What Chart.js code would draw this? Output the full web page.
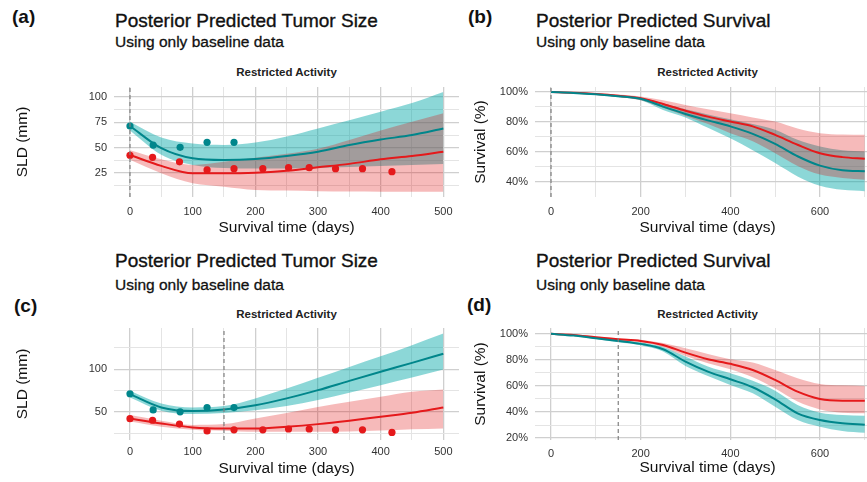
<!DOCTYPE html>
<html>
<head>
<meta charset="utf-8">
<script src="https://cdn.jsdelivr.net/npm/chart.js@4.4.1/dist/chart.umd.min.js"></script>
<style>
  html, body { margin: 0; padding: 0; background: #fff; overflow: hidden; }
  body { width: 867px; height: 482px; position: relative;
         font-family: "Liberation Sans", Arial, Helvetica, sans-serif; color: #111; }
  .txt { position: absolute; line-height: 1; white-space: nowrap; }
  .lbl { font-size: 19px; font-weight: bold; }
  .ttl { font-size: 19px; -webkit-text-stroke: 0.35px #111; }
  .sub { font-size: 15.5px; -webkit-text-stroke: 0.3px #111; }
  .strip { font-size: 11.5px; font-weight: bold; transform: translateX(-50%); color: #222; }
  canvas { position: absolute; }
</style>
</head>
<body>

<div class="txt lbl" style="left:12px;top:7.4px">(a)</div>
<div class="txt ttl" style="left:115px;top:10.9px">Posterior Predicted Tumor Size</div>
<div class="txt sub" style="left:115px;top:34.4px">Using only baseline data</div>
<div class="txt strip" style="left:286.5px;top:66.5px">Restricted Activity</div>

<div class="txt lbl" style="left:468px;top:7.4px">(b)</div>
<div class="txt ttl" style="left:536px;top:10.9px">Posterior Predicted Survival</div>
<div class="txt sub" style="left:536px;top:34.4px">Using only baseline data</div>
<div class="txt strip" style="left:707.5px;top:66.5px">Restricted Activity</div>

<div class="txt lbl" style="left:14px;top:295.9px">(c)</div>
<div class="txt ttl" style="left:115px;top:250.9px">Posterior Predicted Tumor Size</div>
<div class="txt sub" style="left:115px;top:277.4px">Using only baseline data</div>
<div class="txt strip" style="left:286.5px;top:309.3px">Restricted Activity</div>

<div class="txt lbl" style="left:467px;top:294.9px">(d)</div>
<div class="txt ttl" style="left:536px;top:250.9px">Posterior Predicted Survival</div>
<div class="txt sub" style="left:536px;top:277.4px">Using only baseline data</div>
<div class="txt strip" style="left:707.5px;top:309.3px">Restricted Activity</div>

<canvas id="panelA"></canvas>
<canvas id="panelB"></canvas>
<canvas id="panelC"></canvas>
<canvas id="panelD"></canvas>

<script>
// ---- data ----
const tumorDays = [0, 50, 100, 150, 200, 250, 300, 350, 400, 450, 500];
const survDays = [0, 50, 100, 150, 200, 250, 300, 350, 400, 450, 500, 550, 600, 650, 700];

// observed SLD (visits)
const tealVisitDays = [0, 37, 80, 123, 166];
const tealVisitSld = [71.4, 52.6, 50.3, 55.3, 55.3];
const redVisitDays = [0, 36, 79, 123, 166, 212, 253, 286, 328, 371, 418];
const redVisitSld = [42.4, 40.5, 36, 28, 29.3, 29.3, 30.3, 30.3, 29.3, 29.3, 26.3];

// (a) tumor size, baseline cut at day 0
const aTealMid = [71.4, 49.5, 39.5, 37.8, 38.8, 41.8, 46, 52.6, 58, 62.5, 69];
const aTealHi = [75.7, 60, 54, 52.6, 55, 61, 69, 77, 85.5, 94, 105];
const aTealLo = [67, 43, 33, 30, 29.5, 29.5, 30, 31, 32, 33, 34];
const aRedMid = [42.8, 32, 24.7, 24.7, 25.3, 27.3, 30.6, 34, 38.5, 41.8, 46];
const aRedHi = [47.5, 38.5, 33, 36, 40, 44, 49, 57.6, 67, 75.6, 84];
const aRedLo = [38, 24.7, 14.8, 11.5, 8.2, 7.6, 7, 6.8, 6.6, 6.5, 6.5];

// (c) tumor size, cut at day 150
const cTealMid = [71, 55.4, 51.2, 53, 58, 66, 75.6, 86.4, 97, 107.4, 118];
const cTealHi = [75, 60, 55.4, 57, 66, 77.5, 90, 102.7, 115, 128, 141.5];
const cTealLo = [67, 51.5, 47.7, 49, 52.3, 57, 64, 72.5, 81.4, 90.3, 99.6];
const cRedMid = [42.6, 36.8, 32.2, 31, 31, 33, 36, 40, 44.6, 49.2, 55.4];
const cRedHi = [46.5, 40, 35, 36, 42.6, 49, 56, 62, 67.8, 73.6, 76.4];
const cRedLo = [39, 33, 29.5, 28.3, 27, 27, 27, 27.5, 28.5, 30, 31];

// (b) survival %, baseline cut at day 0
const bTealMid = [100, 99.4, 98.5, 97.2, 95.5, 90.2, 85.3, 81, 77, 72, 65.3, 57, 50.7, 47.6, 47];
const bTealHi = [100, 99.6, 99, 97.8, 96.2, 92.5, 88.4, 85, 81.8, 78.5, 74.7, 68, 63.5, 61, 60.2];
const bTealLo = [100, 99.2, 98, 96.5, 94.5, 88, 83, 76, 69, 61, 52.4, 43.5, 37.3, 34.5, 33.6];
const bRedMid = [100, 99.5, 98.7, 97.5, 95.8, 92, 87.5, 83.5, 80.2, 77, 71.3, 64.7, 59, 56.4, 55.3];
const bRedHi = [100, 99.7, 99.2, 98.3, 97, 94.5, 91.3, 88.5, 85.8, 83, 80.2, 75.5, 72.4, 71.5, 71.3];
const bRedLo = [100, 99.3, 98.2, 96.7, 94.5, 89.5, 84, 78.5, 72.4, 67, 59, 50.5, 44.7, 42.5, 41.3];

// (d) survival %, cut at day 150
const dTealMid = [100, 98.7, 96.7, 94.6, 92.3, 88.2, 78.7, 71, 65.1, 59, 49.7, 39, 33.8, 31.3, 30.3];
const dTealHi = [100, 99, 97.3, 95.5, 93.3, 90, 82.6, 74.9, 69.7, 64, 56.4, 45.4, 39.5, 37.7, 37.2];
const dTealLo = [100, 98.4, 96.1, 93.6, 91.3, 86.5, 75.4, 67.7, 60.8, 54.4, 44, 33.8, 28.7, 25.5, 24];
const dRedMid = [100, 99.2, 97.4, 95.9, 94.6, 91.5, 85.6, 80.5, 77, 72.3, 64.6, 55.6, 50, 48.7, 48.7];
const dRedHi = [100, 99.5, 98, 96.7, 95.5, 93, 89, 84.6, 80.5, 78, 72.3, 66, 61.5, 60.5, 60];
const dRedLo = [100, 98.9, 96.8, 95, 93.5, 90, 83, 77.4, 72.8, 66.7, 58, 48, 42, 39.5, 39];

// axis breaks
const tumorXGrid = [0, 50, 100, 150, 200, 250, 300, 350, 400, 450, 500];
const tumorXLabels = [0, 100, 200, 300, 400, 500];
const survXGrid = [0, 100, 200, 300, 400, 500, 600, 700];
const survXLabels = [0, 200, 400, 600];
const aYGrid = [12.5, 25, 37.5, 50, 62.5, 75, 87.5, 100];
const aYLabels = [25, 50, 75, 100];
const cYGrid = [25, 50, 75, 100, 125];
const cYLabels = [50, 100];
const bYGrid = [40, 50, 60, 70, 80, 90, 100];
const bYLabels = [40, 60, 80, 100];
const dYGrid = [20, 30, 40, 50, 60, 70, 80, 90, 100];
const dYLabels = [20, 40, 60, 80, 100];

const TEAL = '#00868b';
const RED = '#e5191b';
const TEAL_BAND = 'rgba(0,167,167,0.45)';
const RED_BAND = 'rgba(222,0,0,0.27)';
const FONT = '"Liberation Sans", Arial, Helvetica, sans-serif';

function pts(xs, ys) {
    return xs.map((x, i) => ({x: x, y: ys[i]}));
}

function makePanel(id, p) {
    const canvas = document.getElementById(id);
    canvas.width = p.w;
    canvas.height = p.h;
    canvas.style.left = p.left + 'px';
    canvas.style.top = p.top + 'px';
    canvas.style.width = p.w + 'px';
    canvas.style.height = p.h + 'px';

    const band = (ys, color, fill) => ({
        data: pts(p.xs, ys), borderWidth: 0, pointRadius: 0,
        backgroundColor: color, fill: fill, cubicInterpolationMode: 'monotone'
    });
    const line = (ys, color) => ({
        data: pts(p.xs, ys), borderColor: color, borderWidth: 2, pointRadius: 0,
        fill: false, cubicInterpolationMode: 'monotone'
    });
    const dots = (xs, ys, color) => ({
        data: pts(xs, ys), showLine: false, pointRadius: 3.6, pointBorderWidth: 0,
        pointBackgroundColor: color, backgroundColor: color
    });

    // index 0 is drawn last (on top)
    const datasets = [
        { data: [{x: p.vline, y: p.yMin}, {x: p.vline, y: p.yMax}], borderColor: '#808080',
          borderWidth: 1.2, borderDash: [4, 3], pointRadius: 0, fill: false },
    ];
    if (p.dots) {
        datasets.push(dots(tealVisitDays, tealVisitSld, TEAL));
        datasets.push(dots(redVisitDays, redVisitSld, RED));
    }
    datasets.push(line(p.tealMid, TEAL));
    datasets.push(line(p.redMid, RED));
    datasets.push(band(p.redHi, RED_BAND, '+1'));
    datasets.push(band(p.redLo, 'transparent', false));
    datasets.push(band(p.tealHi, TEAL_BAND, '+1'));
    datasets.push(band(p.tealLo, 'transparent', false));

    const gridColor = (majors) => (ctx) => majors.includes(ctx.tick.value) ? '#cfcfcf' : '#e4e4e4';
    const gridWidth = (majors) => (ctx) => majors.includes(ctx.tick.value) ? 1.3 : 1;

    new Chart(canvas, {
        type: 'line',
        data: { datasets: datasets },
        options: {
            responsive: false,
            animation: false,
            layout: { padding: { top: 15, right: 4, left: 0, bottom: 0 } },
            plugins: { legend: { display: false }, tooltip: { enabled: false } },
            scales: {
                x: {
                    type: 'linear',
                    min: p.xMin, max: p.xMax,
                    afterBuildTicks: (s) => { s.ticks = p.xGrid.map(v => ({value: v})); },
                    afterFit: (s) => { s.height = p.xH; },
                    grid: { color: gridColor(p.xLabels), lineWidth: gridWidth(p.xLabels), drawTicks: false },
                    border: { display: false },
                    ticks: {
                        autoSkip: false, maxRotation: 0, padding: p.xPad, color: '#333',
                        font: { family: FONT, size: 11 },
                        callback: (v) => p.xLabels.includes(v) ? String(v) : ''
                    },
                    title: {
                        display: true, text: 'Survival time (days)', color: '#111',
                        font: { family: FONT, size: 15.5 }, padding: { top: 0, bottom: p.xTitlePad }
                    }
                },
                y: {
                    type: 'linear',
                    min: p.yMin, max: p.yMax,
                    afterBuildTicks: (s) => { s.ticks = p.yGrid.map(v => ({value: v})); },
                    afterFit: (s) => { s.width = p.yW; },
                    grid: { color: gridColor(p.yLabels), lineWidth: gridWidth(p.yLabels), drawTicks: false },
                    border: { display: false },
                    ticks: {
                        autoSkip: false, padding: 7, color: '#333',
                        font: { family: FONT, size: 11 },
                        callback: (v) => p.yLabels.includes(v) ? v + p.ySuffix : ''
                    },
                    title: {
                        display: true, text: p.yTitle, color: '#111',
                        font: { family: FONT, size: 15.5 }, padding: { top: 3.7, bottom: 0 }
                    }
                }
            }
        }
    });
}

// tumor panels: plot x 114..459, survival panels: plot x 535..880
makePanel('panelA', {
    left: 10, top: 72, w: 453, h: 167, yW: 104, xH: 42, xPad: 8, xTitlePad: 2,
    xMin: -25.5, xMax: 525, yMin: 1.3, yMax: 109.9,
    xGrid: tumorXGrid, xLabels: tumorXLabels, yGrid: aYGrid, yLabels: aYLabels,
    ySuffix: '', yTitle: 'SLD (mm)', vline: 0, dots: true, xs: tumorDays,
    tealMid: aTealMid, tealHi: aTealHi, tealLo: aTealLo,
    redMid: aRedMid, redHi: aRedHi, redLo: aRedLo
});
makePanel('panelB', {
    left: 468, top: 72, w: 416, h: 167, yW: 67, xH: 42, xPad: 8, xTitlePad: 2,
    xMin: -35.7, xMax: 733.9, yMin: 29.7, yMax: 103.35,
    xGrid: survXGrid, xLabels: survXLabels, yGrid: bYGrid, yLabels: bYLabels,
    ySuffix: '%', yTitle: 'Survival (%)', vline: 0, dots: false, xs: survDays,
    tealMid: bTealMid, tealHi: bTealHi, tealLo: bTealLo,
    redMid: bRedMid, redHi: bRedHi, redLo: bRedLo
});
makePanel('panelC', {
    left: 10, top: 313, w: 453, h: 167, yW: 104, xH: 40, xPad: 5, xTitlePad: 2,
    xMin: -25.5, xMax: 525, yMin: 17.5, yMax: 148,
    xGrid: tumorXGrid, xLabels: tumorXLabels, yGrid: cYGrid, yLabels: cYLabels,
    ySuffix: '', yTitle: 'SLD (mm)', vline: 150, dots: true, xs: tumorDays,
    tealMid: cTealMid, tealHi: cTealHi, tealLo: cTealLo,
    redMid: cRedMid, redHi: cRedHi, redLo: cRedLo
});
makePanel('panelD', {
    left: 468, top: 313, w: 416, h: 167, yW: 67, xH: 40, xPad: 7, xTitlePad: 3,
    xMin: -35.7, xMax: 733.9, yMin: 18.5, yMax: 104.5,
    xGrid: survXGrid, xLabels: survXLabels, yGrid: dYGrid, yLabels: dYLabels,
    ySuffix: '%', yTitle: 'Survival (%)', vline: 150, dots: false, xs: survDays,
    tealMid: dTealMid, tealHi: dTealHi, tealLo: dTealLo,
    redMid: dRedMid, redHi: dRedHi, redLo: dRedLo
});
</script>
</body>
</html>
